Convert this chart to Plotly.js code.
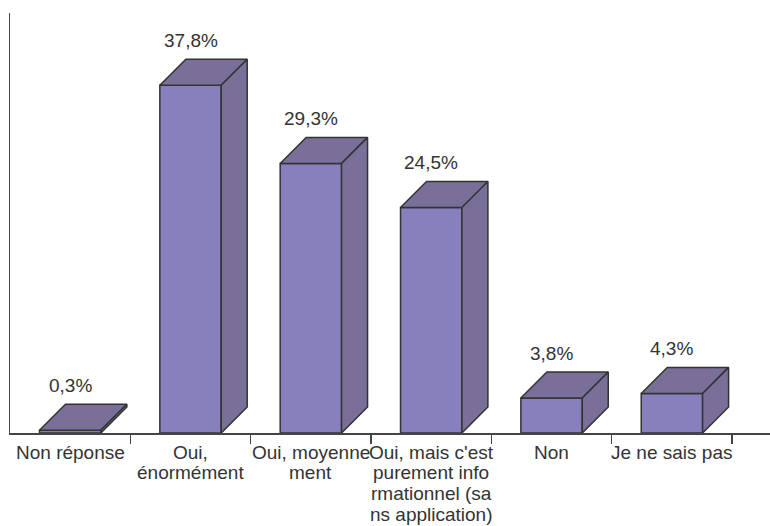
<!DOCTYPE html>
<html><head><meta charset="utf-8">
<script src="https://cdn.plot.ly/plotly-3.0.1.min.js"></script>
<style>html,body{margin:0;padding:0;background:#fff}</style>
</head><body><div id="chart" style="width:770px;height:526px"></div>
<script>
const categories = ["Non réponse", "Oui,<br>énormément", "Oui, moyenne<br>ment", "Oui, mais c'est<br>purement info<br>rmationnel (sa<br>ns application)", "Non", "Je ne sais pas"];
const values = [0.3, 37.8, 29.3, 24.5, 3.8, 4.3];
const valueLabels = ["0,3%", "37,8%", "29,3%", "24,5%", "3,8%", "4,3%"];

const BAR_W = 0.51, DX = 0.216, DY = 2.83;
const FRONT = '#8780BD', SIDE = '#7A6F98', EDGE = '#333333';
const FONT = {family: '"Liberation Sans", Arial, sans-serif', size: 19, color: '#333333'};
const xs = categories.map((_, i) => i);
const traces = [];
traces.push({type: 'bar', x: xs, y: values, width: BAR_W,
  marker: {color: FRONT, line: {color: EDGE, width: 1.5}}, hoverinfo: 'skip'});
values.forEach((v, i) => {
  const l = i - BAR_W / 2, r = i + BAR_W / 2;
  traces.push({type: 'scatter', mode: 'lines', x: [l, r, r + DX, l + DX, l], y: [v, v, v + DY, v + DY, v],
    fill: 'toself', fillcolor: SIDE, line: {color: EDGE, width: 1.5}, hoverinfo: 'skip'});
  traces.push({type: 'scatter', mode: 'lines', x: [r, r + DX, r + DX, r, r], y: [0, DY, v + DY, v, 0],
    fill: 'toself', fillcolor: SIDE, line: {color: EDGE, width: 1.5}, hoverinfo: 'skip'});
});

const annotations = [];
values.forEach((v, i) => {
  annotations.push({x: i, xref: 'x', y: v + DY, yref: 'y', yanchor: 'middle', yshift: 19,
    text: valueLabels[i], showarrow: false, font: FONT});
});
categories.forEach((c, i) => {
  c.split('<br>').forEach((line, j) => {
    annotations.push({x: i, xref: 'x', y: 0, yref: 'paper', yanchor: 'middle', yshift: -19 - 20.7 * j,
      text: line, showarrow: false, font: FONT});
  });
});

const layout = {
  width: 770, height: 526,
  margin: {l: 10, r: 0, t: 13, b: 93},
  showlegend: false,
  paper_bgcolor: '#ffffff', plot_bgcolor: '#ffffff',
  font: FONT,
  xaxis: {range: [-0.5, 5.815], showgrid: false, zeroline: false, showline: true, linecolor: '#444444', linewidth: 1.5,
    tickvals: [0.5, 1.5, 2.5, 3.5, 4.5, 5.5], ticktext: ['', '', '', '', '', ''], ticks: 'outside', ticklen: 9,
    tickcolor: '#444444', tickwidth: 1.5, fixedrange: true},
  yaxis: {range: [0, 45.65], showgrid: false, zeroline: false, showline: true, linecolor: '#444444', linewidth: 1.5,
    showticklabels: false, ticks: '', fixedrange: true},
  annotations: annotations
};
Plotly.newPlot('chart', traces, layout, {displayModeBar: false, staticPlot: true});
</script>
</body></html>
